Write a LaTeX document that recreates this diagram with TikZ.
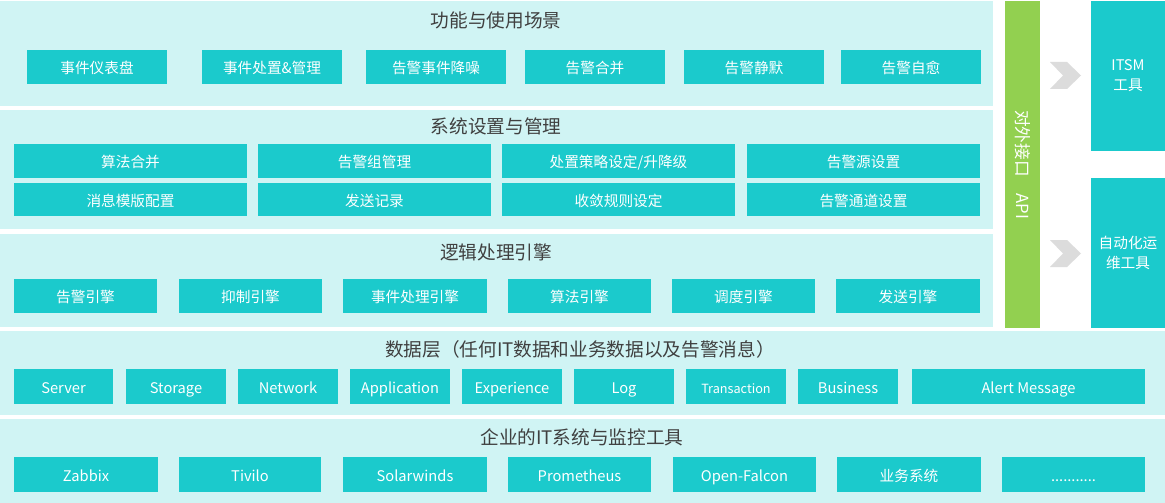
\documentclass[tikz,border=0pt]{standalone}
\usepackage{fontspec}
\setmainfont{Noto Sans CJK SC}
\definecolor{panelc}{HTML}{D0F4F4}
\definecolor{boxc}{HTML}{1BCACC}
\definecolor{apic}{HTML}{92D050}
\definecolor{chevc}{HTML}{DCDCDC}
\definecolor{titlec}{HTML}{404040}
\newcommand\bx[7][]{%
  \node[box,minimum width={(#5-#3)*0.75pt},minimum height={(#6-#4)*0.75pt},#1] (#2) at ({(#3+#5)/2},{(#4+#6)/2}) {#7};}
\newcommand\pnl[6]{%
  \node[panel,minimum width={(#4-#2)*0.75pt},minimum height={(#5-#3)*0.75pt}] (#1) at ({(#2+#4)/2},{(#3+#5)/2}) {#6};}
\begin{document}
\begin{tikzpicture}[x=0.75pt,y=-0.75pt,
  box/.style={fill=boxc,draw=none,text=white,inner sep=0pt,font=\fontsize{11pt}{13pt}\selectfont,align=center,text height=1.05em,text depth=0.05em},
  panel/.style={fill=panelc,draw=none,inner sep=0pt},
  ptitle/.style={text=titlec,font=\fontsize{14pt}{16pt}\selectfont,inner sep=0pt,text height=1.0em,text depth=0.08em},
  chev/.style={fill=chevc,draw=none}]
\fill[white] (0,0) rectangle (1165,503);
\useasboundingbox (0,0) rectangle (1165,503);
% panels
\pnl{p1}{0}{1}{993}{106}{}
\pnl{p2}{0}{110}{993}{229}{}
\pnl{p3}{0}{234}{993}{327}{}
\pnl{p4}{0}{331}{1165}{415}{}
\pnl{p5}{0}{419}{1165}{503}{}
% titles
\node[ptitle] (t1) at (496,21) {功能与使用场景};
\node[ptitle] (t2) at (496,127) {系统设置与管理};
\node[ptitle] (t3) at (496,253) {逻辑处理引擎};
\node[ptitle] (t4) at (580,350) {数据层（任何IT数据和业务数据以及告警消息）};
\node[ptitle] (t5) at (582,438) {企业的IT系统与监控工具};
% row 1
\bx{a1}{27}{50}{167}{84}{事件仪表盘}
\bx{a2}{202}{50}{342}{84}{事件处置\&管理}
\bx{a3}{366}{50}{506}{84}{告警事件降噪}
\bx{a4}{525}{50}{665}{84}{告警合并}
\bx{a5}{684}{50}{824}{84}{告警静默}
\bx{a6}{841}{50}{981}{84}{告警自愈}
% row 2
\bx{b1}{14}{144}{247}{178}{算法合并}
\bx{b2}{258}{144}{491}{178}{告警组管理}
\bx{b3}{502}{144}{735}{178}{处置策略设定/升降级}
\bx{b4}{747}{144}{980}{178}{告警源设置}
\bx{b5}{14}{183}{247}{216}{消息模版配置}
\bx{b6}{258}{183}{491}{216}{发送记录}
\bx{b7}{502}{183}{735}{216}{收敛规则设定}
\bx{b8}{747}{183}{980}{216}{告警通道设置}
% row 3
\bx{c1}{14}{279}{157}{313}{告警引擎}
\bx{c2}{179}{279}{322}{313}{抑制引擎}
\bx{c3}{343}{279}{487}{313}{事件处理引擎}
\bx{c4}{508}{279}{651}{313}{算法引擎}
\bx{c5}{672}{279}{815}{313}{调度引擎}
\bx{c6}{836}{279}{980}{313}{发送引擎}
% row 4
\bx{d1}{14}{369}{113}{404}{Server}
\bx{d2}{126}{369}{226}{404}{Storage}
\bx{d3}{238}{369}{338}{404}{Network}
\bx{d4}{350}{369}{450}{404}{Application}
\bx{d5}{462}{369}{562}{404}{Experience}
\bx{d6}{574}{369}{674}{404}{Log}
\bx[font=\fontsize{9.5pt}{11pt}\selectfont]{d7}{686}{369}{786}{404}{Transaction}
\bx{d8}{798}{369}{898}{404}{Business}
\bx{d9}{912}{369}{1145}{404}{Alert Message}
% row 5
\bx{e1}{14}{457}{158}{492}{Zabbix}
\bx{e2}{179}{457}{321}{492}{Tivilo}
\bx{e3}{343}{457}{487}{492}{Solarwinds}
\bx{e4}{508}{457}{651}{492}{Prometheus}
\bx{e5}{673}{457}{816}{492}{Open-Falcon}
\bx{e6}{837}{457}{981}{492}{业务系统}
\bx{e7}{1002}{457}{1145}{492}{...........}
% API bar
\bx[fill=apic,text height=,text depth=]{api}{1005}{1}{1040}{328}{}
\node[text=white,rotate=-90,font=\fontsize{12.5pt}{14pt}\selectfont,inner sep=0pt] (apit) at (api.center) {对外接口\hspace{1em}API};
% right tools
\bx[font=\fontsize{11pt}{15pt}\selectfont,text height=,text depth=]{itsm}{1091}{1}{1165}{151}{ITSM\\工具}
\bx[font=\fontsize{11pt}{15pt}\selectfont,text height=,text depth=]{auto}{1091}{178}{1165}{328}{自动化运\\维工具}
% chevrons
\fill[chev] (1050,62) -- (1067,62) -- (1081,75.5) -- (1067,89) -- (1050,89) -- (1063,75.5) -- cycle;
\fill[chev] (1050,240) -- (1067,240) -- (1081,253.5) -- (1067,267) -- (1050,267) -- (1063,253.5) -- cycle;
\end{tikzpicture}
\end{document}
